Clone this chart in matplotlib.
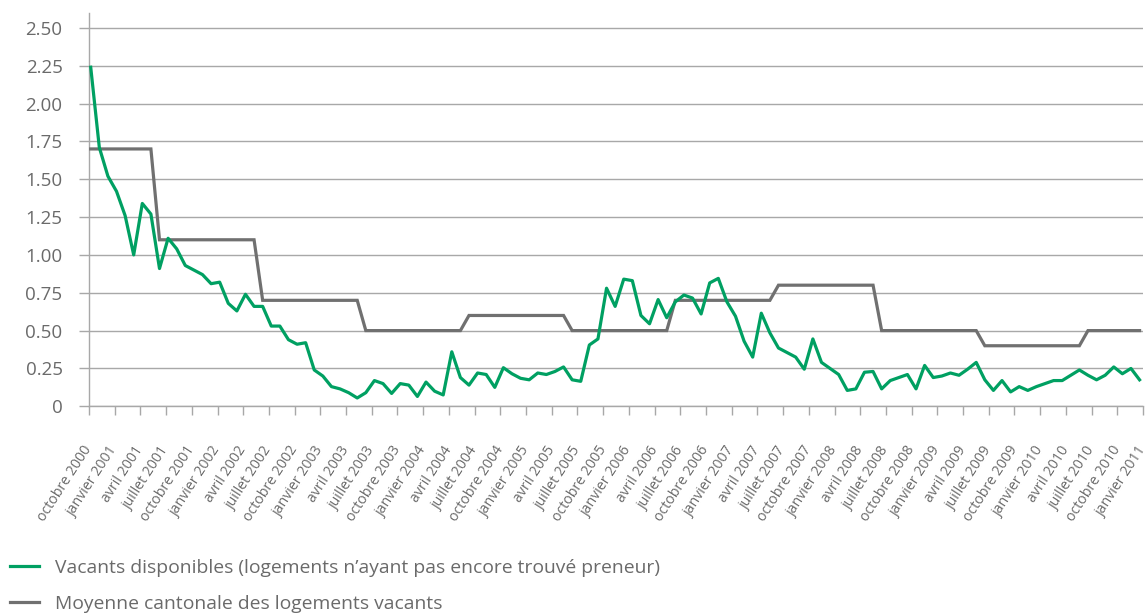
import numpy as np
import matplotlib.pyplot as plt
from matplotlib.lines import Line2D

plt.rcParams['font.family'] = ['Open Sans', 'DejaVu Sans']

# taux mensuels, octobre 2000 -> décembre 2010
vacants = [
    2.24, 1.71, 1.52, 1.42, 1.26, 1.00, 1.34, 1.27, 0.91, 1.11,
    1.04, 0.93, 0.90, 0.87, 0.81, 0.82, 0.68, 0.63, 0.74, 0.66,
    0.66, 0.53, 0.53, 0.44, 0.41, 0.42, 0.24, 0.20, 0.13, 0.115,
    0.09, 0.055, 0.09, 0.17, 0.15, 0.085, 0.15, 0.14, 0.065, 0.16,
    0.10, 0.075, 0.36, 0.19, 0.14, 0.22, 0.21, 0.125, 0.255, 0.215,
    0.185, 0.175, 0.22, 0.21, 0.23, 0.26, 0.175, 0.165, 0.405, 0.445,
    0.78, 0.66, 0.84, 0.83, 0.60, 0.545, 0.705, 0.585, 0.69, 0.735,
    0.715, 0.61, 0.815, 0.845, 0.69, 0.595, 0.43, 0.325, 0.615, 0.485,
    0.385, 0.355, 0.325, 0.245, 0.445, 0.29, 0.25, 0.21, 0.105, 0.115,
    0.225, 0.23, 0.115, 0.17, 0.19, 0.21, 0.115, 0.27, 0.19, 0.20,
    0.22, 0.205, 0.245, 0.29, 0.175, 0.105, 0.17, 0.095, 0.13, 0.105,
    0.13, 0.15, 0.17, 0.17, 0.205, 0.24, 0.205, 0.175, 0.205, 0.26,
    0.215, 0.25, 0.175,
]

# moyenne annuelle (valeur constante de juin à mai)
moyenne = (
    [1.70] * 8 + [1.10] * 12 + [0.70] * 12 + [0.50] * 12 + [0.60] * 12
    + [0.50] * 12 + [0.70] * 12 + [0.80] * 12 + [0.50] * 12 + [0.40] * 12
    + [0.50] * 7
)

mois = ['octobre', 'janvier', 'avril', 'juillet']
annee_debut = 2000
n_labels = 42
labels = [f'{mois[k % 4]} {annee_debut + (k + 3) // 4}' for k in range(n_labels)]

y_ticks = [0, 0.25, 0.5, 0.75, 1.0, 1.25, 1.5, 1.75, 2.0, 2.25, 2.5]

vert = '#00a062'
gris = '#707070'
grille = '#a8a8a8'
texte = '#6a6a6a'

fig = plt.figure(figsize=(11.45, 6.16), dpi=100)
ax = fig.add_axes([89 / 1145, 209.7 / 616, 1054 / 1145, 393.6 / 616])

x = list(range(len(vacants)))
ax.plot(x, moyenne, color=gris, lw=2.3, solid_joinstyle='miter', zorder=3)
ax.plot(x, vacants, color=vert, lw=2.3, zorder=4)

x0, x1 = -0.2, 122.4
ax.set_xlim(x0, x1)
ax.set_ylim(0, 2.6)

ax.set_yticks(y_ticks)
ax.set_yticklabels(['0' if v == 0 else f'{v:.2f}' for v in y_ticks])
ax.yaxis.grid(True, color=grille, lw=1.0)
ax.set_axisbelow(True)

# graduations trimestrielles réparties sur toute la largeur de l'axe
ax.set_xticks(np.linspace(x0, x1, n_labels))
ax.set_xticklabels(labels, rotation=57, ha='right', va='center',
                   rotation_mode='anchor', fontsize=10.2, color=texte)

ax.tick_params(axis='y', length=7, width=1, color=grille, pad=12,
               labelsize=13.5, labelcolor=texte)
ax.tick_params(axis='x', length=6.5, width=1, color=grille, pad=23)

for side in ('top', 'right'):
    ax.spines[side].set_visible(False)
for side in ('left', 'bottom'):
    ax.spines[side].set_color(grille)
    ax.spines[side].set_linewidth(1.0)

handles = [
    Line2D([], [], color=vert, lw=2.3),
    Line2D([], [], color=gris, lw=2.3),
]
noms = [
    'Vacants disponibles (logements n’ayant pas encore trouvé preneur)',
    'Moyenne cantonale des logements vacants',
]
leg = fig.legend(handles, noms, loc='upper left',
                 bbox_to_anchor=(10 / 1145, 0.093), frameon=False,
                 fontsize=13.9, handlelength=1.5, handletextpad=0.85,
                 borderpad=0, borderaxespad=0, labelspacing=0.95)
for t in leg.get_texts():
    t.set_color(texte)

fig.savefig('out.png', dpi=100)
